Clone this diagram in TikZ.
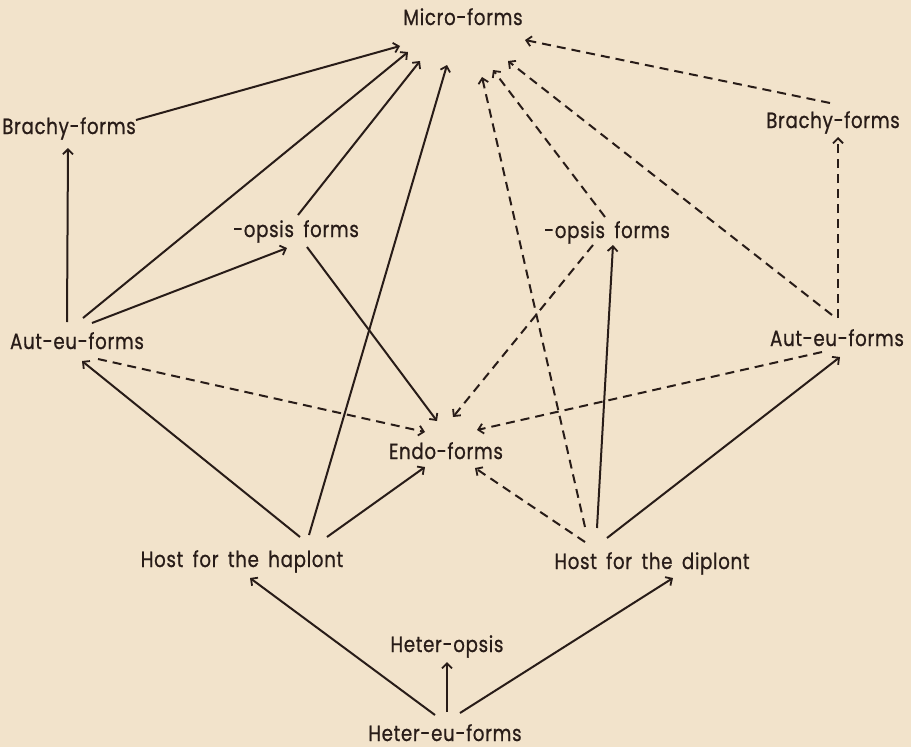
\documentclass[tikz,border=0pt]{standalone}
\usepackage{fontspec}
\setmainfont{Poppins}[FakeStretch=0.83,FakeBold=0.7,LetterSpace=3,WordSpace=1.7]
\usetikzlibrary{arrows.meta}
\definecolor{paper}{RGB}{242,227,203}
\definecolor{ink}{RGB}{40,28,24}
\begin{document}
\begin{tikzpicture}[x=1pt,y=-1pt,
  lbl/.style={anchor=base,inner sep=0pt,text=ink,font=\fontsize{22}{25}\selectfont},
  arr/.style={draw=ink,line width=2pt,-{Straight Barb[length=5pt,width=10pt,line width=1.8pt]}},
  darr/.style={arr,dash pattern=on 9pt off 6pt}]
\fill[paper] (0,0) rectangle (911,747);
\useasboundingbox (0,0) rectangle (911,747);
% names
\node[lbl] (micro)   at (463,25)  {Micro-forms};
\node[lbl] (brachyL) at (69,134)  {Brachy-forms};
\node[lbl] (brachyR) at (833,128) {Brachy-forms};
\node[lbl] (opsisL)  at (296,237) {-opsis forms};
\node[lbl] (opsisR)  at (607,238) {-opsis forms};
\node[lbl] (autL)    at (77,349)  {Aut-eu-forms};
\node[lbl] (autR)    at (837,346) {Aut-eu-forms};
\node[lbl] (endo)    at (446,459) {Endo-forms};
\node[lbl] (hap)     at (242,567) {Host for the haplont};
\node[lbl] (dip)     at (652,569) {Host for the diplont};
\node[lbl] (hopsis)  at (447,652) {Heter-opsis};
\node[lbl] (heu)     at (445,741) {Heter-eu-forms};
% solid lines
\draw[arr] ([shift={(67,-14)}]brachyL.base) -- ([shift={(-63,21)}]micro.base);
\draw[arr] ([shift={(-10,-27)}]autL.base) -- ([shift={(-1,14)}]brachyL.base);
\draw[arr] ([shift={(6,-31)}]autL.base) -- ([shift={(-55,27)}]micro.base);
\draw[arr] ([shift={(15,-26)}]autL.base) -- ([shift={(-9,11)}]opsisL.base);
\draw[arr] ([shift={(2,-22)}]opsisL.base) -- ([shift={(-43,36)}]micro.base);
\draw[arr] ([shift={(67,-32)}]hap.base) -- ([shift={(-16,40)}]micro.base);
\draw[arr] ([shift={(11,10)}]opsisL.base) -- ([shift={(-9,-38)}]endo.base);
\draw[arr] ([shift={(58,-30)}]hap.base) -- ([shift={(5,12)}]autL.base);
\draw[arr] ([shift={(85,-30)}]hap.base) -- ([shift={(-21,8)}]endo.base);
\draw[arr] ([shift={(-10,-26)}]heu.base) -- ([shift={(8,11)}]hap.base);
\draw[arr] ([shift={(15,-28)}]heu.base) -- ([shift={(21,9)}]dip.base);
\draw[arr] ([shift={(2,-29)}]heu.base) -- ([shift={(0,10)}]hopsis.base);
\draw[arr] ([shift={(-55,-41)}]dip.base) -- ([shift={(6,7)}]opsisR.base);
\draw[arr] ([shift={(-45,-31)}]dip.base) -- ([shift={(3,11)}]autR.base);
% dashed lines
\draw[darr] ([shift={(21,10)}]autL.base) -- ([shift={(-21,-27)}]endo.base);
\draw[darr] ([shift={(-14,7)}]opsisR.base) -- ([shift={(7,-42)}]endo.base);
\draw[darr] ([shift={(-67,-42)}]dip.base) -- ([shift={(19,52)}]micro.base);
\draw[darr] ([shift={(-2,-21)}]opsisR.base) -- ([shift={(30,45)}]micro.base);
\draw[darr] ([shift={(-5,-31)}]autR.base) -- ([shift={(45,36)}]micro.base);
\draw[darr] ([shift={(-3,-25)}]brachyR.base) -- ([shift={(62,15)}]micro.base);
\draw[darr] ([shift={(1,-28)}]autR.base) -- ([shift={(5,9)}]brachyR.base);
\draw[darr] ([shift={(-15,6)}]autR.base) -- ([shift={(31,-29)}]endo.base);
\draw[darr] ([shift={(-67,-27)}]dip.base) -- ([shift={(29,9)}]endo.base);
\end{tikzpicture}
\end{document}
